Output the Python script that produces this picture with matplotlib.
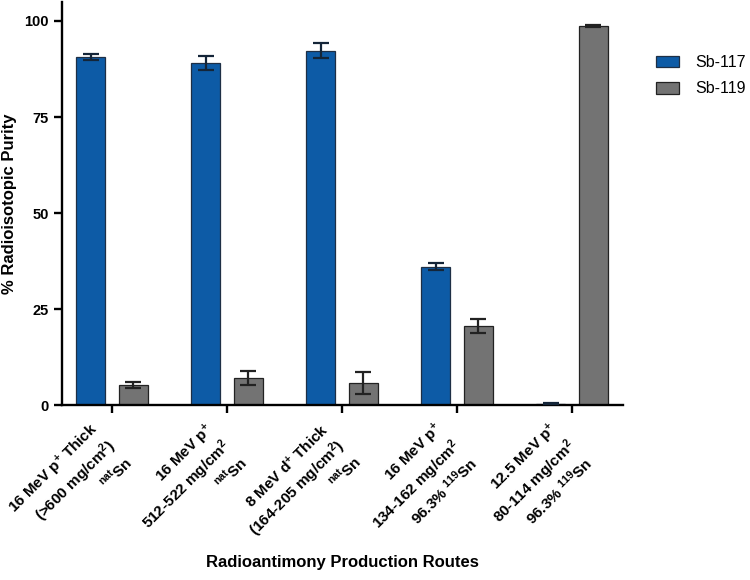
"""Radioisotopic purity of radioantimony for each production route."""

import matplotlib

matplotlib.use("Agg")
import matplotlib.pyplot as plt
import numpy as np

plt.rcParams["font.family"] = ["Liberation Sans", "DejaVu Sans"]
plt.rcParams["mathtext.fontset"] = "custom"
plt.rcParams["mathtext.rm"] = "Liberation Sans:bold"
plt.rcParams["mathtext.default"] = "rm"

routes = [
    "16 MeV p$^{+}$ Thick\n(>600 mg/cm$^{2}$)\n$^{nat}$Sn",
    "16 MeV p$^{+}$\n512-522 mg/cm$^{2}$\n$^{nat}$Sn",
    "8 MeV d$^{+}$ Thick\n(164-205 mg/cm$^{2}$)\n$^{nat}$Sn",
    "16 MeV p$^{+}$\n134-162 mg/cm$^{2}$\n96.3% $^{119}$Sn",
    "12.5 MeV p$^{+}$\n80-114 mg/cm$^{2}$\n96.3% $^{119}$Sn",
]
sb117 = [90.6, 89.1, 92.3, 36.1, 0.4]
sb117_err = [0.7, 1.9, 2.0, 1.0, 0.1]
sb119 = [5.3, 7.2, 5.9, 20.7, 98.6]
sb119_err = [0.7, 1.8, 2.8, 1.9, 0.3]

fig = plt.figure(figsize=(7.5, 5.8), dpi=100)
ax = fig.add_axes([0.0827, 0.301, 0.748, 0.696])

x = np.arange(len(routes))
width = 0.25
offset = 0.185
err_kw = dict(elinewidth=1.6, capthick=1.6, capsize=5.8)

ax.bar(x - offset, sb117, width, color="#0d5ba6", edgecolor="#1e2f45",
       linewidth=0.9, label="Sb-117", zorder=2)
ax.bar(x + offset, sb119, width, color="#737373", edgecolor="#222222",
       linewidth=0.9, label="Sb-119", zorder=2)
ax.errorbar(x - offset, sb117, yerr=sb117_err, fmt="none", ecolor="#142538",
            zorder=3, **err_kw)
ax.errorbar(x + offset, sb119, yerr=sb119_err, fmt="none", ecolor="#222222",
            zorder=3, **err_kw)

ax.set_xlim(-0.435, 4.443)
ax.set_ylim(0, 105)
ax.set_yticks([0, 25, 50, 75, 100])
ax.set_xticks(x)
ax.set_xticklabels(routes, rotation=45, ha="right", va="center",
                   rotation_mode="anchor", multialignment="right",
                   fontsize=11, fontweight="bold")
for label in ax.get_yticklabels():
    label.set_fontsize(10.5)
    label.set_fontweight("bold")

for side in ("top", "right"):
    ax.spines[side].set_visible(False)
for side in ("left", "bottom"):
    ax.spines[side].set_linewidth(1.7)
ax.tick_params(axis="both", width=1.7, length=6)
ax.tick_params(axis="x", pad=21)

ax.set_ylabel("% Radioisotopic Purity", fontsize=12, fontweight="bold")
ax.yaxis.set_label_coords(-0.093, 0.5)
ax.yaxis.label.set_va("center")
ax.set_xlabel("Radioantimony Production Routes", fontsize=12,
              fontweight="bold")
ax.xaxis.set_label_coords(0.5, -0.39)
ax.xaxis.label.set_va("center")

fig.legend(loc="upper left", bbox_to_anchor=(0.874, 0.905), frameon=False,
           fontsize=11.5, handlelength=1.45, handleheight=0.75,
           handletextpad=1.05, labelspacing=0.7, borderpad=0,
           borderaxespad=0)

fig.savefig("out.png", dpi=100)
